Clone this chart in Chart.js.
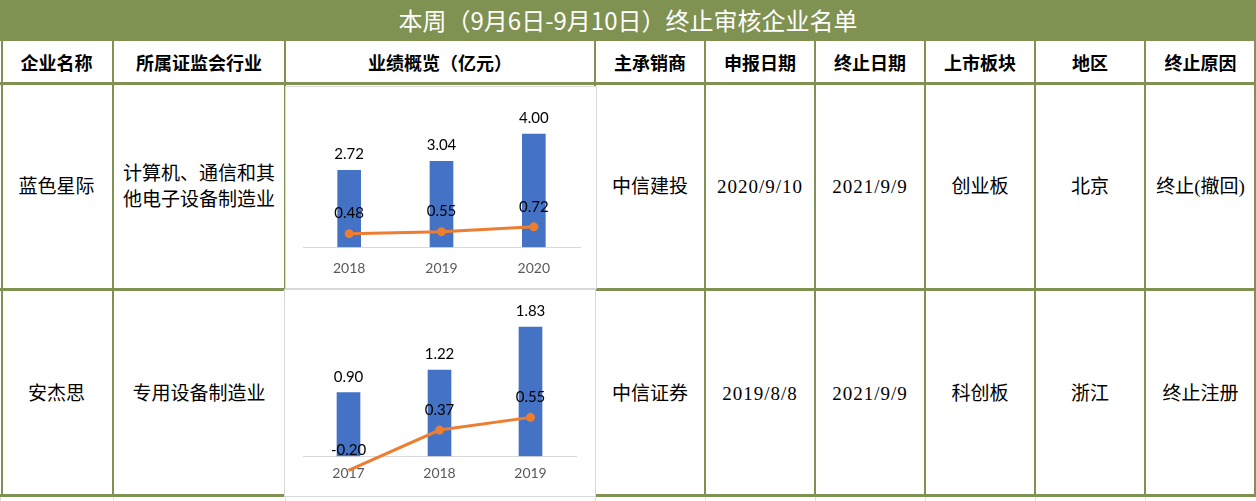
<!DOCTYPE html>
<html>
<head>
<meta charset="utf-8">
<script src="https://cdn.jsdelivr.net/npm/chart.js@4"></script>
<style>
  body { margin: 0; background: #fff; }
  #sheet { position: relative; width: 1256px; height: 501px; overflow: hidden; background: #fff;
    font-family: "Noto Sans CJK SC", sans-serif; }
  .title { position: absolute; left: 0; top: 0; width: 1256px; height: 41px; background: #7f9251;
    color: #fff; font-size: 24px; line-height: 39px; text-align: center; }
  .vl { position: absolute; width: 2px; background: #7f9251; }
  .hl { position: absolute; left: 0; width: 1256px; height: 3px; background: #7f9251; }
  .gl { position: absolute; width: 1px; background: #e0e0e0; top: 497px; height: 4px; }
  .cell { position: absolute; display: flex; align-items: center; justify-content: center;
    text-align: center; color: #000; white-space: pre-line; }
  .hd { font-weight: bold; font-size: 18px; }
  .bd { font-size: 19px; line-height: 26px; font-family: "Liberation Serif", "Noto Sans CJK SC", serif; }
  .dt { letter-spacing: 1px; }
  .chartbox { position: absolute; background: #fff; border: 1px solid #d9d9d9; box-sizing: border-box; }
</style>
</head>
<body>
<div id="sheet">
  <div class="title">本周（9月6日-9月10日）终止审核企业名单</div>
</div>
<script>
// Table text
const headers = ['企业名称', '所属证监会行业', '业绩概览（亿元）', '主承销商', '申报日期', '终止日期', '上市板块', '地区', '终止原因'];
const row1 = ['蓝色星际', '计算机、通信和其\n他电子设备制造业', '', '中信建投', '2020/9/10', '2021/9/9', '创业板', '北京', '终止(撤回)'];
const row2 = ['安杰思', '专用设备制造业', '', '中信证券', '2019/8/8', '2021/9/9', '科创板', '浙江', '终止注册'];

// Chart data (亿元)
const years1 = ['2018', '2019', '2020'];
const revenue1 = [2.72, 3.04, 4.00];
const profit1 = [0.48, 0.55, 0.72];
const years2 = ['2017', '2018', '2019'];
const revenue2 = [0.90, 1.22, 1.83];
const profit2 = [-0.20, 0.37, 0.55];

// Layout of the sheet
const colEdges = [0, 113, 285, 595, 705, 815, 925, 1035, 1145, 1256];
const rowEdges = [41, 83, 289, 495];

const sheet = document.getElementById('sheet');

function addDiv(cls, style, text) {
  const d = document.createElement('div');
  d.className = cls;
  Object.assign(d.style, style);
  if (text !== undefined) d.textContent = text;
  sheet.appendChild(d);
  return d;
}

// header and body cells
function addRow(values, top, bottom, cls) {
  values.forEach((v, i) => {
    if (!v) return;
    const extra = (i === 4 || i === 5) && cls === 'bd' ? ' dt' : '';
    addDiv('cell ' + cls + extra, {
      left: colEdges[i] + 'px',
      width: (colEdges[i + 1] - colEdges[i]) + 'px',
      top: top + 'px',
      height: (bottom - top) + 'px',
    }, v);
  });
}
addRow(headers, rowEdges[0], rowEdges[1], 'hd');
addRow(row1, rowEdges[1], rowEdges[2] + 2, 'bd');
addRow(row2, rowEdges[2], rowEdges[3] + 4, 'bd');

// grid lines
colEdges.forEach((x, i) => {
  const left = i === 0 ? 1 : (i === colEdges.length - 1 ? x - 2 : x - 1);
  addDiv('vl', { left: left + 'px', top: '40px', height: (rowEdges[3] - 40 + 2) + 'px' });
  addDiv('gl', { left: x + 'px' });
});
rowEdges.forEach((y, i) => {
  if (i === 0) return;
  addDiv('hl', { top: (y - 1) + 'px' });
});

// Data label plugin (values above bars and points)
const valueLabels = {
  id: 'valueLabels',
  afterDatasetsDraw(chart) {
    const ctx = chart.ctx;
    ctx.save();
    ctx.font = '15px Lato';
    ctx.fillStyle = '#000';
    ctx.textAlign = 'center';
    ctx.textBaseline = 'middle';
    chart.data.datasets.forEach((ds, di) => {
      const meta = chart.getDatasetMeta(di);
      const offset = ds.type === 'line' ? 20 : 16;
      meta.data.forEach((el, i) => {
        ctx.fillText(ds.data[i].toFixed(2), el.x, el.y - offset);
      });
    });
    ctx.restore();
  },
};

function makeChart(box, labels, revenue, profit, yMax, padding, tickPad) {
  const canvas = document.createElement('canvas');
  box.appendChild(canvas);
  return new Chart(canvas.getContext('2d'), {
    type: 'bar',
    data: {
      labels: labels,
      datasets: [
        {
          type: 'line',
          data: profit,
          borderColor: '#ed7d31',
          backgroundColor: '#ed7d31',
          borderWidth: 3,
          pointRadius: 4.5,
          pointBorderWidth: 0,
          clip: false,
        },
        {
          type: 'bar',
          data: revenue,
          backgroundColor: '#4472c4',
          barThickness: 23,
        },
      ],
    },
    options: {
      responsive: true,
      maintainAspectRatio: false,
      animation: false,
      layout: { padding: padding },
      scales: {
        x: {
          grid: { display: false, drawTicks: false },
          border: { display: true, color: '#d9d9d9', width: 1 },
          ticks: { color: '#595959', font: { family: 'Lato', size: 14 }, padding: tickPad },
        },
        y: {
          display: false,
          min: 0,
          max: yMax,
        },
      },
      plugins: {
        legend: { display: false },
        tooltip: { enabled: false },
      },
    },
    plugins: [valueLabels],
  });
}

const box1 = addDiv('chartbox', { left: '285px', top: '86px', width: '312px', height: '203px' });
const box2 = addDiv('chartbox', { left: '284px', top: '289px', width: '312px', height: '208px' });

makeChart(box1, years1, revenue1, profit1, 4.5, { top: 33, bottom: -2, left: 17, right: 16 }, 13);
makeChart(box2, years2, revenue2, profit2, 2.0, { top: 25, bottom: 5, left: 18, right: 19 }, 9);
</script>
</body>
</html>
